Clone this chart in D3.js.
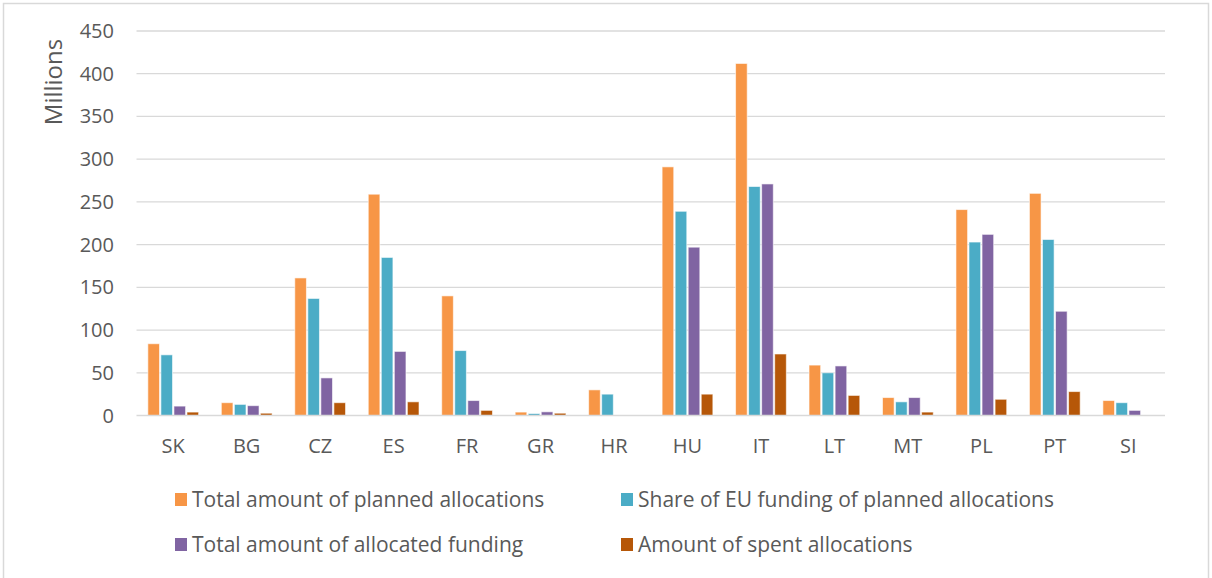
<!DOCTYPE html>
<html>
<head>
<meta charset="utf-8">
<script src="https://cdn.jsdelivr.net/npm/d3@7"></script>
<style>
  body { margin: 0; background: #fff; }
  text { font-family: "Open Sans", Lato, sans-serif; fill: #595959; }
</style>
</head>
<body>
<script>
var countries = ["SK", "BG", "CZ", "ES", "FR", "GR", "HR", "HU", "IT", "LT", "MT", "PL", "PT", "SI"];
var plannedTotal = [84, 15, 161, 259, 140, 4, 30, 291, 412, 59, 21, 241, 260, 17.5];
var plannedEU = [71, 13, 137, 185, 76, 2.3, 25, 239, 268, 50, 16, 203, 206, 15];
var allocatedTotal = [11, 11.5, 44, 75, 17.5, 4.3, 0, 197, 271, 58, 21, 212, 122, 6];
var spentAmount = [4, 2.7, 15, 16, 6, 2.7, 0, 25, 72, 23.5, 4, 19, 28, 0];
var seriesNames = ["Total amount of planned allocations", "Share of EU funding of planned allocations",
                   "Total amount of allocated funding", "Amount of spent allocations"];
var yTicks = [0, 50, 100, 150, 200, 250, 300, 350, 400, 450];

var seriesValues = [plannedTotal, plannedEU, allocatedTotal, spentAmount];
var colors = ["#F79646", "#4BACC6", "#8064A2", "#B65708"];

var W = 1212, H = 578;
var svg = d3.select("body").append("svg")
    .attr("width", W)
    .attr("height", H);

// outer chart frame
svg.append("rect")
    .attr("x", 3.5).attr("y", 3.5)
    .attr("width", 1205).attr("height", 590)
    .attr("fill", "#fff")
    .attr("stroke", "#d9d9d9")
    .attr("stroke-width", 1.5);

var plot = { left: 136.5, right: 1165, top: 31, bottom: 415.5 };

var x0 = d3.scaleBand()
    .domain(countries)
    .range([plot.left, plot.right])
    .paddingInner(0.29)
    .paddingOuter(0.145);

var x1 = d3.scaleBand()
    .domain(d3.range(seriesNames.length))
    .range([0, x0.bandwidth()]);

var y = d3.scaleLinear()
    .domain([0, 450])
    .range([plot.bottom, plot.top]);

// gridlines
svg.append("g").selectAll("line")
    .data(yTicks.slice(1))
    .enter().append("line")
    .attr("x1", plot.left).attr("x2", plot.right)
    .attr("y1", function (d) { return y(d); })
    .attr("y2", function (d) { return y(d); })
    .attr("stroke", "#d9d9d9")
    .attr("stroke-width", 1.3);

// y tick labels
svg.append("g").selectAll("text")
    .data(yTicks)
    .enter().append("text")
    .attr("x", 114)
    .attr("y", function (d) { return y(d); })
    .attr("dy", "0.35em")
    .attr("text-anchor", "end")
    .style("font-size", "20px")
    .text(function (d) { return d; });

// bars
var rows = countries.map(function (c, i) {
    return { country: c, values: seriesValues.map(function (s) { return s[i]; }) };
});

var groups = svg.append("g").selectAll("g")
    .data(rows)
    .enter().append("g")
    .attr("transform", function (d) { return "translate(" + x0(d.country) + ",0)"; });

groups.selectAll("rect")
    .data(function (d) { return d.values.map(function (v, k) { return { k: k, v: v }; }); })
    .enter().append("rect")
    .filter(function (d) { return d.v > 0; })
    .attr("x", function (d) { return x1(d.k) + 0.7; })
    .attr("width", x1.bandwidth() - 1.4)
    .attr("y", function (d) { return y(d.v); })
    .attr("height", function (d) { return y(0) - y(d.v); })
    .attr("fill", function (d) { return colors[d.k]; })
    .attr("stroke", "#fff")
    .attr("stroke-opacity", 0.6)
    .attr("stroke-width", 1);

// base axis line
svg.append("line")
    .attr("x1", plot.left).attr("x2", plot.right)
    .attr("y1", y(0)).attr("y2", y(0))
    .attr("stroke", "#d9d9d9")
    .attr("stroke-width", 1.5);

// category labels
svg.append("g").selectAll("text")
    .data(countries)
    .enter().append("text")
    .attr("x", function (d) { return x0(d) + x0.bandwidth() / 2; })
    .attr("y", 453)
    .attr("text-anchor", "middle")
    .style("font-size", "20px")
    .text(function (d) { return d; });

// y axis title
svg.append("text")
    .attr("transform", "translate(62,82)rotate(-90)")
    .attr("text-anchor", "middle")
    .style("font-size", "24px")
    .text("Millions");

// legend
var legendPos = [[175, 500], [621, 500], [175, 545], [621, 545]];
var legend = svg.append("g").selectAll("g")
    .data(seriesNames)
    .enter().append("g")
    .attr("transform", function (d, i) { return "translate(" + legendPos[i][0] + "," + legendPos[i][1] + ")"; });

legend.append("rect")
    .attr("x", 0).attr("y", -7)
    .attr("width", 12).attr("height", 13)
    .attr("fill", function (d, i) { return colors[i]; });

legend.append("text")
    .attr("x", 17)
    .attr("dy", "0.35em")
    .style("font-size", "21px")
    .text(function (d) { return d; });
</script>
</body>
</html>
